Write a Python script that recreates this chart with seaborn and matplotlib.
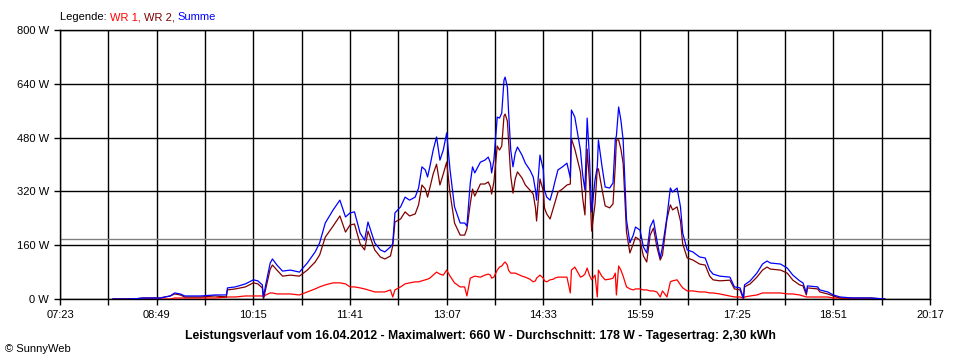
import matplotlib
matplotlib.use("Agg")
import matplotlib.pyplot as plt
import seaborn as sns
import pandas as pd

# ---------------- data ----------------
times = ["08:10", "08:21", "08:31", "08:37", "08:52", "09:01", "09:05", "09:10", "09:14", "09:28",
         "09:41", "09:51", "09:52", "09:59", "10:08", "10:15", "10:19", "10:23", "10:24", "10:26",
         "10:30", "10:32", "10:36", "10:41", "10:48", "10:56", "11:03", "11:10", "11:14", "11:19",
         "11:26", "11:32", "11:37", "11:41", "11:45", "11:50", "11:54", "11:57", "12:03", "12:08",
         "12:12", "12:17", "12:19", "12:21", "12:26", "12:30", "12:34", "12:39", "12:42", "12:45",
         "12:48", "12:50", "12:52", "12:55", "12:58", "13:01", "13:04", "13:07", "13:10", "13:14",
         "13:19", "13:23", "13:25", "13:28", "13:30", "13:32", "13:37", "13:41", "13:44", "13:46",
         "13:47", "13:49", "13:52", "13:54", "13:56", "13:58", "13:59", "14:01", "14:02", "14:04",
         "14:06", "14:08", "14:10", "14:14", "14:17", "14:21", "14:24", "14:26", "14:27", "14:30",
         "14:33", "14:34", "14:36", "14:39", "14:42", "14:43", "14:46", "14:50", "14:54", "14:57",
         "14:58", "15:01", "15:06", "15:08", "15:10", "15:12", "15:14", "15:16", "15:19", "15:21",
         "15:22", "15:25", "15:28", "15:32", "15:35", "15:37", "15:38", "15:40", "15:42", "15:44",
         "15:47", "15:50", "15:53", "15:55", "15:59", "16:02", "16:05", "16:08", "16:11", "16:14",
         "16:17", "16:19", "16:23", "16:26", "16:28", "16:32", "16:35", "16:37", "16:41", "16:46",
         "16:52", "16:57", "17:01", "17:04", "17:10", "17:19", "17:23", "17:28", "17:31", "17:32",
         "17:37", "17:43", "17:48", "17:52", "17:55", "18:04", "18:10", "18:15", "18:21", "18:24",
         "18:27", "18:28", "18:37", "18:39", "18:46", "18:51", "18:57", "19:08", "19:24", "19:37"]

wr1 = [0, 0, 0, 0, 0, 0, 3, 3, 3, 3,
       3, 6, 6, 6, 9, 9, 9, 9, 6, 12,
       18, 18, 15, 15, 15, 12, 21, 30, 36, 42,
       48, 48, 45, 36, 36, 33, 30, 27, 21, 21,
       21, 27, 6, 27, 36, 45, 48, 51, 51, 54,
       57, 59, 62, 71, 80, 74, 71, 86, 68, 48,
       36, 36, 9, 62, 65, 68, 65, 71, 74, 71,
       62, 65, 86, 95, 98, 107, 110, 101, 86, 77,
       77, 77, 74, 68, 65, 59, 51, 54, 62, 71,
       62, 54, 51, 57, 59, 62, 65, 65, 65, 18,
       86, 95, 65, 68, 74, 92, 71, 57, 71, 6,
       86, 68, 57, 59, 62, 77, 12, 98, 86, 68,
       36, 30, 27, 30, 30, 27, 27, 24, 24, 21,
       6, 24, 6, 51, 54, 57, 42, 33, 24, 24,
       21, 21, 18, 18, 15, 9, 6, 6, 3, 6,
       9, 12, 18, 18, 18, 18, 15, 15, 12, 9,
       6, 6, 6, 6, 6, 3, 3, 0, 0, 0]

wr2 = [0, 0, 1, 3, 3, 9, 15, 12, 6, 6,
       9, 6, 27, 30, 36, 48, 45, 33, 0, 30,
       89, 101, 86, 68, 71, 68, 86, 110, 131, 184,
       217, 247, 199, 220, 223, 164, 146, 202, 146, 125,
       119, 128, 158, 229, 238, 259, 247, 253, 280, 339,
       327, 303, 330, 372, 401, 339, 372, 407, 315, 226,
       190, 190, 208, 283, 327, 306, 342, 342, 348, 333,
       312, 348, 455, 443, 455, 544, 550, 529, 476, 366,
       315, 357, 378, 360, 339, 324, 312, 271, 232, 357,
       321, 271, 253, 238, 271, 283, 318, 327, 339, 342,
       476, 446, 378, 300, 250, 446, 351, 202, 283, 387,
       387, 330, 277, 271, 283, 396, 473, 473, 446, 404,
       199, 137, 164, 184, 175, 128, 110, 190, 211, 155,
       116, 131, 238, 280, 265, 274, 232, 164, 122, 116,
       104, 101, 68, 57, 54, 56, 30, 27, 0, 36,
       45, 65, 86, 95, 89, 86, 77, 56, 42, 39,
       12, 33, 30, 21, 15, 9, 3, 3, 3, 0]

summe = [0, 0, 1, 3, 3, 9, 18, 15, 9, 9,
         12, 12, 33, 36, 45, 57, 54, 42, 6, 42,
         107, 119, 101, 83, 86, 80, 107, 140, 167, 226,
         265, 294, 244, 256, 259, 196, 175, 229, 167, 146,
         140, 155, 164, 256, 274, 303, 294, 303, 330, 393,
         384, 363, 393, 443, 482, 413, 443, 494, 384, 274,
         226, 226, 217, 345, 393, 375, 407, 413, 422, 404,
         375, 413, 541, 538, 553, 651, 660, 630, 562, 443,
         393, 434, 452, 428, 404, 384, 363, 324, 294, 428,
         384, 324, 303, 294, 330, 345, 384, 393, 404, 360,
         562, 541, 443, 369, 324, 538, 422, 259, 354, 393,
         473, 399, 333, 330, 345, 473, 485, 571, 532, 473,
         235, 167, 190, 214, 205, 155, 137, 214, 235, 175,
         122, 155, 244, 330, 318, 330, 274, 196, 146, 140,
         125, 122, 86, 74, 68, 65, 36, 33, 3, 42,
         54, 77, 104, 113, 107, 104, 92, 71, 54, 48,
         18, 39, 36, 27, 21, 12, 6, 3, 3, 0]

series_names = ["WR 1", "WR 2", "Summe"]
series_colors = ["#FF0000", "#800000", "#0000FF"]
average_w = 178
x_tick_labels = ["07:23", "08:49", "10:15", "11:41", "13:07", "14:33", "15:59", "17:25", "18:51", "20:17"]
y_ticks = [0, 160, 320, 480, 640, 800]
title_text = ("Leistungsverlauf vom 16.04.2012 - Maximalwert: 660 W - "
              "Durchschnitt: 178 W - Tagesertrag: 2,30 kWh")


def to_min(s):
    h, m = s.split(":")
    return int(h) * 60 + int(m)


minutes = [to_min(t) for t in times]
df = pd.concat([
    pd.DataFrame({"t": minutes, "W": vals, "Serie": name})
    for name, vals in zip(series_names, [wr1, wr2, summe])
], ignore_index=True)

# ---------------- figure ----------------
sns.set_style("white")
plt.rcParams["font.family"] = ["Liberation Sans", "DejaVu Sans"]

fig = plt.figure(figsize=(9.6, 3.6), dpi=100)
ax = fig.add_axes([60 / 960, 1 - 299 / 360, 870 / 960, 269 / 360])

major = [to_min(t) for t in x_tick_labels]
minor = [m + 43 for m in major[:-1]]

ax.set_xlim(major[0], major[-1])
ax.set_ylim(0, 800)
ax.set_xticks(major)
ax.set_xticklabels(x_tick_labels)
ax.set_xticks(minor, minor=True)
ax.set_yticks(y_ticks)
ax.set_yticklabels([f"{v} W" for v in y_ticks])
ax.grid(True, which="both", color="black", linewidth=1.0)
ax.set_axisbelow(True)
ax.axhline(average_w, color="#808080", linewidth=1.0, zorder=1.5)

sns.lineplot(data=df, x="t", y="W", hue="Serie", hue_order=series_names,
             palette=series_colors, estimator=None, linewidth=0.9,
             legend=False, ax=ax, zorder=3)

ax.set_xlabel("")
ax.set_ylabel("")
for sp in ax.spines.values():
    sp.set_color("black")
    sp.set_linewidth(1.0)
ax.tick_params(axis="both", which="both", direction="out", length=4,
               width=1.0, color="black", labelsize=8, labelcolor="black", pad=4)
ax.tick_params(axis="both", which="both", bottom=True, left=True)

# legend line (coloured text pieces chained)
t0 = fig.text(60 / 960, 1 - 17 / 360, "Legende: ", fontsize=8, color="black",
              va="center", ha="left")
prev = t0
for name, col, sep in zip(series_names, series_colors, [", ", ", ", ""]):
    prev = ax.annotate(name + sep, xy=(1, 0.5), xycoords=prev, va="center",
                       ha="left", fontsize=8, color=col, annotation_clip=False)

fig.text(0.5, 1 - 336 / 360, title_text, ha="center", va="center",
         fontsize=8.8, fontweight="bold", color="black")
fig.text(5 / 960, 1 - 349 / 360, "\u00a9 SunnyWeb", ha="left", va="center",
         fontsize=8, color="black")

fig.savefig("out.png", dpi=100)
